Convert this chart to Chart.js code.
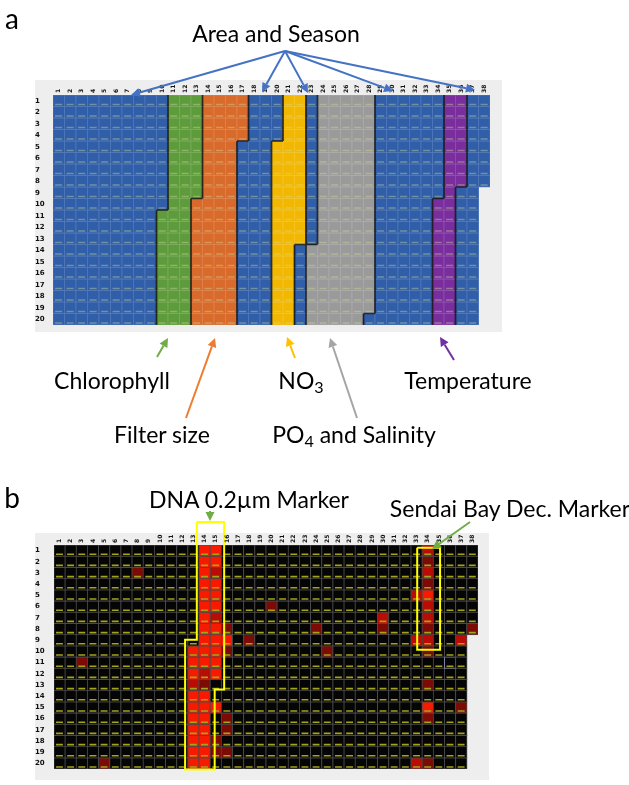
<!DOCTYPE html>
<html lang="en">
<head>
<meta charset="UTF-8">
<title>SOM component planes</title>
<script src="https://cdn.jsdelivr.net/npm/chart.js"></script>
<style>
    body { margin: 0; padding: 0; background: #fff; }
    #page { position: relative; width: 629px; height: 785px; overflow: hidden; font-family: Lato, "Open Sans", sans-serif; color: #000; }
    canvas { position: absolute; left: 0; }
    #chartA { top: 0; }
    #chartB { top: 470px; }
    .lbl { position: absolute; white-space: nowrap; transform: translate(-50%, -50%); font-size: 23px; line-height: 1; }
    .lbl sub { font-size: 70%; vertical-align: -0.3em; line-height: 0; }
    .panel { font-size: 28px; }
</style>
</head>
<body>
<div id="page">
    <canvas id="chartA" width="629" height="470"></canvas>
    <canvas id="chartB" width="629" height="315"></canvas>

    <div class="lbl panel" style="left:12px; top:18px">a</div>
    <div class="lbl" style="left:276px; top:33px">Area and Season</div>
    <div class="lbl" style="left:112px; top:380px">Chlorophyll</div>
    <div class="lbl" style="left:162px; top:434px">Filter size</div>
    <div class="lbl" style="left:301px; top:380px">NO<sub>3</sub></div>
    <div class="lbl" style="left:354px; top:434px">PO<sub>4</sub> and Salinity</div>
    <div class="lbl" style="left:468px; top:380px">Temperature</div>

    <div class="lbl panel" style="left:12px; top:497px">b</div>
    <div class="lbl" style="left:249px; top:499px">DNA 0.2µm Marker</div>
    <div class="lbl" style="left:510px; top:508px">Sendai Bay Dec. Marker</div>
</div>

<script>
    const COLS = [1, 2, 3, 4, 5, 6, 7, 8, 9, 10, 11, 12, 13, 14, 15, 16, 17, 18, 19,
                  20, 21, 22, 23, 24, 25, 26, 27, 28, 29, 30, 31, 32, 33, 34, 35, 36, 37, 38];
    const ROWS = [1, 2, 3, 4, 5, 6, 7, 8, 9, 10, 11, 12, 13, 14, 15, 16, 17, 18, 19, 20];

    // panel a: which variable each unit belongs to, one string per row, one letter per column
    // B area/season, G chlorophyll, O filter size, Y NO3, S PO4/salinity, P temperature, . no unit
    const areaRows = [
        'BBBBBBBBBBGGGOOOOBBBYYBSSSSSBBBBBBPPBB',
        'BBBBBBBBBBGGGOOOOBBBYYBSSSSSBBBBBBPPBB',
        'BBBBBBBBBBGGGOOOOBBBYYBSSSSSBBBBBBPPBB',
        'BBBBBBBBBBGGGOOOOBBBYYBSSSSSBBBBBBPPBB',
        'BBBBBBBBBBGGGOOOBBBYYYBSSSSSBBBBBBPPBB',
        'BBBBBBBBBBGGGOOOBBBYYYBSSSSSBBBBBBPPBB',
        'BBBBBBBBBBGGGOOOBBBYYYBSSSSSBBBBBBPPBB',
        'BBBBBBBBBBGGGOOOBBBYYYBSSSSSBBBBBBPPBB',
        'BBBBBBBBBBGGGOOOBBBYYYBSSSSSBBBBBBPBB.',
        'BBBBBBBBBBGGOOOOBBBYYYBSSSSSBBBBBPPBB.',
        'BBBBBBBBBGGGOOOOBBBYYYBSSSSSBBBBBPPBB.',
        'BBBBBBBBBGGGOOOOBBBYYYBSSSSSBBBBBPPBB.',
        'BBBBBBBBBGGGOOOOBBBYYYBSSSSSBBBBBPPBB.',
        'BBBBBBBBBGGGOOOOBBBYYBSSSSSSBBBBBPPBB.',
        'BBBBBBBBBGGGOOOOBBBYYBSSSSSSBBBBBPPBB.',
        'BBBBBBBBBGGGOOOOBBBYYBSSSSSSBBBBBPPBB.',
        'BBBBBBBBBGGGOOOOBBBYYBSSSSSSBBBBBPPBB.',
        'BBBBBBBBBGGGOOOOBBBYYBSSSSSSBBBBBPPBB.',
        'BBBBBBBBBGGGOOOOBBBYYBSSSSSSBBBBBPPBB.',
        'BBBBBBBBBGGGOOOOBBBYYBSSSSSBBBBBBPPBB.'
    ];

    // panel b: units lit by the markers [column, row, intensity 1..3]
    const markerUnits = [
        [13, 10, 3], [13, 11, 3], [13, 12, 3], [13, 13, 2], [13, 14, 3], [13, 15, 3], [13, 16, 3],
        [13, 17, 3], [13, 18, 3], [13, 19, 3], [13, 20, 3],
        [14, 1, 3], [14, 2, 3], [14, 3, 3], [14, 4, 3], [14, 5, 3], [14, 6, 3], [14, 7, 3], [14, 8, 3],
        [14, 9, 3], [14, 10, 3], [14, 11, 3], [14, 12, 2], [14, 13, 1], [14, 14, 3], [14, 15, 3],
        [14, 16, 3], [14, 17, 3], [14, 18, 3], [14, 19, 3], [14, 20, 3],
        [15, 1, 3], [15, 2, 3], [15, 3, 2], [15, 4, 3], [15, 5, 3], [15, 6, 3], [15, 7, 2], [15, 8, 3],
        [15, 9, 3], [15, 10, 3], [15, 11, 3], [15, 12, 3], [15, 15, 3], [15, 18, 1], [15, 19, 1],
        [16, 8, 1], [16, 9, 3], [16, 10, 1], [16, 16, 1], [16, 17, 1], [16, 19, 1],
        [8, 3, 1], [3, 11, 1], [5, 20, 1], [20, 6, 1], [18, 9, 1], [24, 8, 1], [25, 10, 1],
        [30, 7, 2], [30, 8, 1], [33, 5, 2], [33, 9, 2], [33, 20, 2], [37, 9, 2], [37, 15, 1], [38, 8, 1],
        [34, 1, 2], [34, 2, 1], [34, 3, 2], [34, 4, 1], [34, 5, 3], [34, 6, 2], [34, 7, 2], [34, 8, 1],
        [34, 9, 2], [34, 10, 1], [34, 13, 1], [34, 15, 3], [34, 16, 1], [34, 20, 1]
    ];
    const selectedUnit = [36, 11];

    // marker outlines, in grid units
    const dnaOutline = [[13.3, -1.55], [13.3, 8.95], [12.25, 8.95], [12.25, 20.55], [14.9, 20.55],
                        [14.9, 13.4], [15.75, 13.4], [15.75, -1.55], [13.3, -1.55]];
    const sendaiOutline = [[33.05, 0.75], [33.05, 9.85], [35.1, 9.85], [35.1, 0.75], [33.05, 0.75]];

    const AREA_COLORS = { B: '#305ea8', G: '#5e9b3c', O: '#d86a2b', Y: '#f2b700', S: '#9a9a9a', P: '#7a2e9e' };
    const RED_LEVELS = ['#050505', '#7c0a05', '#b80c04', '#f81a00'];

    // hex colour mixed towards white
    function lighten(hex, t) {
        const n = parseInt(hex.slice(1), 16);
        const ch = [(n >> 16) & 255, (n >> 8) & 255, n & 255].map(v => Math.round(v + (255 - v) * t));
        return 'rgb(' + ch.join(',') + ')';
    }

    function arrow(ctx, x1, y1, x2, y2, color) {
        const ang = Math.atan2(y2 - y1, x2 - x1);
        const head = 9, half = 4.5;
        const bx = x2 - head * Math.cos(ang), by = y2 - head * Math.sin(ang);
        ctx.save();
        ctx.strokeStyle = color;
        ctx.fillStyle = color;
        ctx.lineWidth = 2;
        ctx.beginPath();
        ctx.moveTo(x1, y1);
        ctx.lineTo(bx, by);
        ctx.stroke();
        ctx.beginPath();
        ctx.moveTo(x2, y2);
        ctx.lineTo(bx + half * Math.sin(ang), by - half * Math.cos(ang));
        ctx.lineTo(bx - half * Math.sin(ang), by + half * Math.cos(ang));
        ctx.closePath();
        ctx.fill();
        ctx.restore();
    }

    function drawDashes(chart, meta, color) {
        if (meta.type !== 'bar') return;
        const ctx = chart.ctx;
        ctx.save();
        ctx.strokeStyle = color;
        ctx.lineWidth = 1.6;
        ctx.beginPath();
        meta.data.forEach(bar => {
            const { x, y, base, width } = bar.getProps(['x', 'y', 'base', 'width'], true);
            const bottom = Math.max(y, base) - 2;
            ctx.moveTo(x - width * 0.32, bottom);
            ctx.lineTo(x + width * 0.3, bottom);
        });
        ctx.stroke();
        ctx.restore();
    }

    // vertical column numbers above the grid
    function drawColumnLabels(chart) {
        const { ctx, chartArea, scales: { x } } = chart;
        ctx.save();
        ctx.fillStyle = '#111';
        ctx.font = 'bold 6px "DejaVu Sans"';
        ctx.textAlign = 'left';
        ctx.textBaseline = 'middle';
        x.ticks.forEach(t => {
            ctx.save();
            ctx.translate(x.getPixelForValue(t.value), chartArea.top - 2);
            ctx.rotate(-Math.PI / 2);
            ctx.fillText(String(t.value), 0, 0);
            ctx.restore();
        });
        ctx.restore();
    }

    function axisOptions(colHeight, rowWidth) {
        return {
            x: {
                type: 'linear', position: 'top', min: 0.5, max: 38.5, offset: false,
                afterBuildTicks: s => { s.ticks = COLS.map(v => ({ value: v })); },
                afterFit: s => { s.height = colHeight; s.paddingLeft = 0; s.paddingRight = 0; },
                grid: { display: false, offset: false }, border: { display: false },
                ticks: { display: false }
            },
            y: {
                type: 'linear', reverse: true, min: 0.5, max: 20.5, offset: false,
                afterBuildTicks: s => { s.ticks = ROWS.map(v => ({ value: v })); },
                afterFit: s => { s.width = rowWidth; s.paddingTop = 0; s.paddingBottom = 0; },
                grid: { display: false }, border: { display: false },
                ticks: { crossAlign: 'far', padding: 2, color: '#111', font: { family: 'DejaVu Sans', size: 7, weight: 'bold' }, callback: v => String(v) }
            }
        };
    }

    const barStyle = { borderWidth: 1, borderSkipped: false, inflateAmount: 0.6, grouped: false, barPercentage: 1, categoryPercentage: 1, order: 1 };

    // ---------- panel a ----------
    const datasetsA = ROWS.map((row, i) => {
        const cells = [];
        areaRows[i].split('').forEach((k, j) => {
            if (k !== '.') cells.push({ x: COLS[j], y: [row - 0.5, row + 0.5], k: k });
        });
        return Object.assign({
            data: cells,
            backgroundColor: cells.map(c => AREA_COLORS[c.k]),
            borderColor: cells.map(c => lighten(AREA_COLORS[c.k], 0.16))
        }, barStyle);
    });

    const panelA = {
        id: 'panelA',
        beforeDraw(chart) {
            const { ctx, chartArea: a } = chart;
            ctx.save();
            ctx.fillStyle = '#eeeeee';
            ctx.fillRect(a.left - 18, a.top - 15, a.right - a.left + 30, a.bottom - a.top + 22);
            ctx.restore();
        },
        afterDatasetDraw(chart, args) {
            drawDashes(chart, args.meta, 'rgba(210,222,150,0.4)');
        },
        afterDatasetsDraw(chart) {
            const { ctx, scales: { x, y } } = chart;
            ctx.save();
            ctx.strokeStyle = 'rgba(20,20,20,0.85)';
            ctx.lineWidth = 1.7;
            ctx.beginPath();
            areaRows.forEach((line, i) => {
                for (let j = 0; j < line.length; j++) {
                    const k = line[j];
                    if (k === '.') continue;
                    const right = line[j + 1];
                    if (right && right !== '.' && right !== k) {
                        const px = x.getPixelForValue(COLS[j] + 0.5);
                        ctx.moveTo(px, y.getPixelForValue(ROWS[i] - 0.5));
                        ctx.lineTo(px, y.getPixelForValue(ROWS[i] + 0.5));
                    }
                    const below = areaRows[i + 1] ? areaRows[i + 1][j] : undefined;
                    if (below && below !== '.' && below !== k) {
                        const py = y.getPixelForValue(ROWS[i] + 0.5);
                        ctx.moveTo(x.getPixelForValue(COLS[j] - 0.5), py);
                        ctx.lineTo(x.getPixelForValue(COLS[j] + 0.5), py);
                    }
                }
            });
            ctx.stroke();
            ctx.restore();
            drawColumnLabels(chart);
        },
        afterDraw(chart) {
            const ctx = chart.ctx;
            [[131, 95], [262, 92], [308, 93], [393, 91], [475, 90]].forEach(t => arrow(ctx, 285, 51, t[0], t[1], '#4472c4'));
            arrow(ctx, 157, 357, 168, 338, '#70ad47');
            arrow(ctx, 186, 418, 215, 338, '#ed7d31');
            arrow(ctx, 295, 358, 287, 337, '#ffc000');
            arrow(ctx, 357, 418, 330, 338, '#a5a5a5');
            arrow(ctx, 454, 360, 440, 337, '#7030a0');
        }
    };

    new Chart(document.getElementById('chartA'), {
        type: 'bar',
        data: { datasets: datasetsA },
        options: {
            responsive: false, animation: false, events: [],
            layout: { padding: { left: 35, top: 81, right: 139, bottom: 145 } },
            plugins: { legend: { display: false }, tooltip: { enabled: false } },
            scales: axisOptions(14, 18)
        },
        plugins: [panelA]
    });

    // ---------- panel b ----------
    const datasetsB = ROWS.map((row, i) => {
        const cells = [];
        areaRows[i].split('').forEach((k, j) => {
            if (k === '.') return;
            const hit = markerUnits.find(m => m[0] === COLS[j] && m[1] === row);
            cells.push({ x: COLS[j], y: [row - 0.5, row + 0.5], level: hit ? hit[2] : 0 });
        });
        return Object.assign({
            data: cells,
            backgroundColor: cells.map(c => RED_LEVELS[c.level]),
            borderColor: cells.map(c => (c.x === selectedUnit[0] && row === selectedUnit[1]) ? '#8a8ab4' : '#4a4a4a')
        }, barStyle);
    });

    const outlineStyle = { type: 'line', borderColor: '#ffff00', borderWidth: 2, pointRadius: 0, fill: false, tension: 0, clip: false, order: 0 };
    datasetsB.push(Object.assign({ data: dnaOutline.map(p => ({ x: p[0], y: p[1] })) }, outlineStyle));
    datasetsB.push(Object.assign({ data: sendaiOutline.map(p => ({ x: p[0], y: p[1] })) }, outlineStyle));

    const panelB = {
        id: 'panelB',
        beforeDraw(chart) {
            const { ctx, chartArea: a } = chart;
            ctx.save();
            ctx.fillStyle = '#eeeeee';
            ctx.fillRect(a.left - 19, a.top - 12, a.right - a.left + 30, a.bottom - a.top + 23);
            ctx.restore();
        },
        afterDatasetDraw(chart, args) {
            drawDashes(chart, args.meta, '#a3a31c');
        },
        afterDatasetsDraw(chart) {
            drawColumnLabels(chart);
        },
        afterDraw(chart) {
            const ctx = chart.ctx;
            arrow(ctx, 210, 41, 210, 51, '#70ad47');
            arrow(ctx, 470, 52, 432, 79, '#70ad47');
        }
    };

    new Chart(document.getElementById('chartB'), {
        type: 'bar',
        data: { datasets: datasetsB },
        options: {
            responsive: false, animation: false, events: [],
            layout: { padding: { left: 35, top: 62, right: 151, bottom: 16 } },
            plugins: { legend: { display: false }, tooltip: { enabled: false } },
            scales: axisOptions(13, 19)
        },
        plugins: [panelB]
    });
</script>
</body>
</html>
